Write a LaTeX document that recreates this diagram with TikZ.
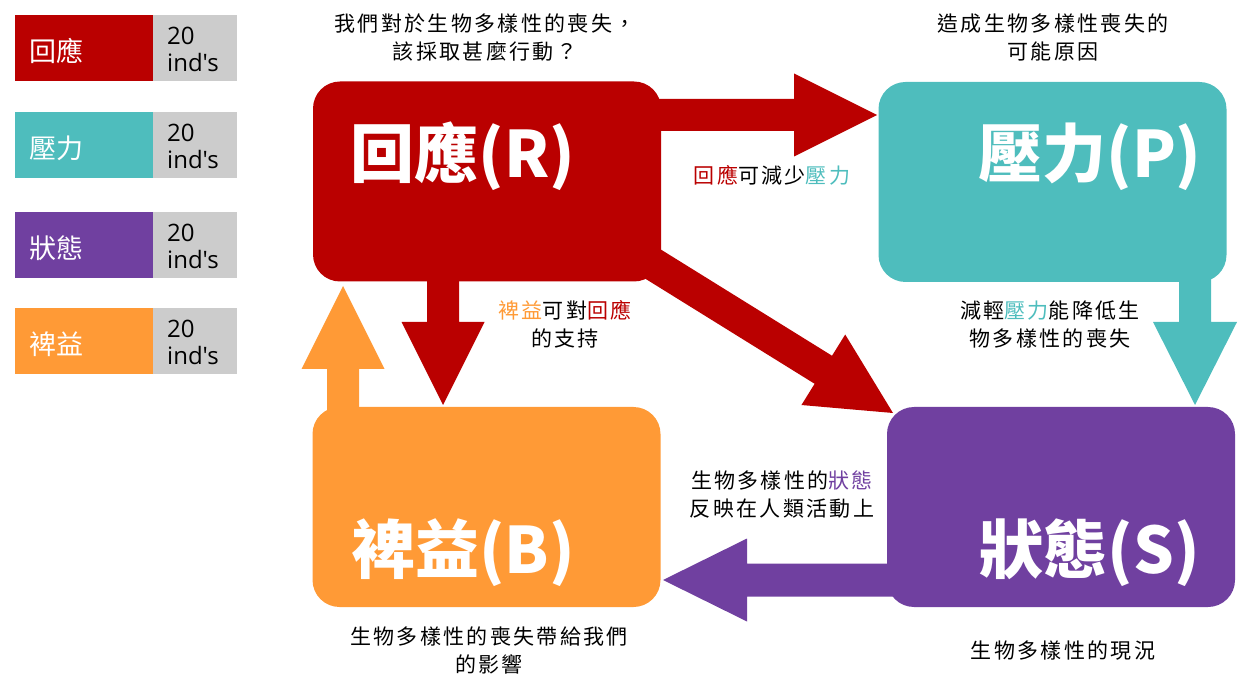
\documentclass[tikz,border=0pt]{standalone}
\usepackage{fontspec}
\setmainfont{Noto Sans CJK TC}
\newfontfamily\lab{Noto Sans CJK TC}[LetterSpace=11]
\newfontfamily\lat{Open Sans}
\usetikzlibrary{calc}
\definecolor{cR}{RGB}{186,0,0}
\definecolor{cP}{RGB}{78,189,189}
\definecolor{cS}{RGB}{112,64,160}
\definecolor{cB}{RGB}{255,154,54}
\definecolor{cG}{RGB}{204,204,204}
% block arrow: from, to, shaft half width, head half width, head length, style
\newcommand\barrow[6]{%
 \fill[#6] let \p1=(#1), \p2=(#2),
   \n1={veclen((\x2)-(\x1),(\y2)-(\y1))},
   \n2={((\x2)-(\x1))/(\n1)}, \n3={((\y2)-(\y1))/(\n1)} in
   ({(\x1)-(\n3)*#3},{(\y1)+(\n2)*#3})
   -- ({(\x2)-(\n2)*#5-(\n3)*#3},{(\y2)-(\n3)*#5+(\n2)*#3})
   -- ({(\x2)-(\n2)*#5-(\n3)*#4},{(\y2)-(\n3)*#5+(\n2)*#4})
   -- (\p2)
   -- ({(\x2)-(\n2)*#5+(\n3)*#4},{(\y2)-(\n3)*#5-(\n2)*#4})
   -- ({(\x2)-(\n2)*#5+(\n3)*#3},{(\y2)-(\n3)*#5-(\n2)*#3})
   -- ({(\x1)+(\n3)*#3},{(\y1)-(\n2)*#3}) -- cycle;}
\tikzset{
  bigbox/.style={rounded corners=27pt, minimum width=348pt, minimum height=200pt, inner sep=0pt},
  bigtxt/.style={text=white, font=\fontsize{64}{70}\selectfont\bfseries, anchor=base, inner sep=0pt},
  lbl/.style={font=\lab\fontsize{21}{28}\selectfont, align=center, inner sep=0pt},
  legc/.style={minimum width=138pt, minimum height=66pt, inner sep=0pt, anchor=north west},
  legg/.style={fill=cG, minimum width=84pt, minimum height=66pt, inner sep=0pt, anchor=north west},
  legt/.style={text=white, font=\fontsize{27}{30}\selectfont, anchor=west, inner sep=0pt},
  legn/.style={font=\lat\fontsize{24}{27}\selectfont, anchor=base west, inner sep=0pt}
}
\begin{document}
\begin{tikzpicture}[x=1pt,y=-1pt]
\useasboundingbox (0,0) rectangle (1245,684);
% legend
\node[legc, fill=cR] (l1) at (15,15) {};
\node[legg] (g1) at (153,15) {};
\node[legc, fill=cP] (l2) at (15,112) {};
\node[legg] (g2) at (153,112) {};
\node[legc, fill=cS] (l3) at (15,212) {};
\node[legg] (g3) at (153,212) {};
\node[legc, fill=cB] (l4) at (15,308) {};
\node[legg] (g4) at (153,308) {};
\foreach \i/\t/\y in {1/回應/15, 2/壓力/112, 3/狀態/212, 4/裨益/308}{
  \node[legt] (lt\i) at (29,\y+36) {\t};
  \node[legn] (na\i) at (167,\y+30) {20};
  \node[legn] (nb\i) at (167,\y+57) {ind's};
}
% arrow end points
\coordinate (rp0) at (650,115);  \coordinate (rp1) at (877,115);
\coordinate (rb0) at (443,270);  \coordinate (rb1) at (443,405);
\coordinate (rs0) at (640,256);  \coordinate (rs1) at (893,413);
\coordinate (ps0) at (1195,270); \coordinate (ps1) at (1195,405);
\coordinate (sb0) at (900,580);  \coordinate (sb1) at (663,580);
\coordinate (br0) at (343,420);  \coordinate (br1) at (343,286);
% arrows
\barrow{rp0}{rp1}{16}{41.5}{83}{cR}
\barrow{rb0}{rb1}{16}{41.5}{83}{cR}
\barrow{rs0}{rs1}{16.5}{41.5}{82}{cR}
\barrow{ps0}{ps1}{16}{42}{83}{cP}
\barrow{sb0}{sb1}{16.5}{41.5}{84}{cS}
\barrow{br0}{br1}{16}{41.5}{83}{cB}
% boxes
\node[bigbox, fill=cR] (R) at (487,181.5) {};
\node[bigbox, fill=cP] (P) at (1052.5,182) {};
\node[bigbox, fill=cB] (B) at (486.5,507) {};
\node[bigbox, fill=cS] (S) at (1061,507) {};
\node[bigtxt] (Rt) at (463,178) {回應(R)};
\node[bigtxt] (Pt) at (1090,178) {壓力(P)};
\node[bigtxt] (Bt) at (463,573) {裨益(B)};
\node[bigtxt] (St) at (1090,573) {狀態(S)};
% labels
\node[lbl] (q1) at (485,37.5) {我們對於生物多樣性的喪失，\\該採取甚麼行動？};
\node[lbl] (q2) at (1053,37.5) {造成生物多樣性喪失的\\可能原因};
\node[lbl] (q3) at (772,175) {{\color{cR}回應}可減少{\color{cP}壓力}};
\node[lbl] (q4) at (565,324) {{\color{cB}裨益}可對{\color{cR}回應}\\的支持};
\node[lbl] (q5) at (1050,324) {減輕{\color{cP}壓力}能降低生\\物多樣性的喪失};
\node[lbl] (q6) at (782,495) {生物多樣性的{\color{cS}狀態}\\反映在人類活動上};
\node[lbl] (q7) at (489,650) {生物多樣性的喪失帶給我們\\的影響};
\node[lbl] (q8) at (1063,651) {生物多樣性的現況};
\end{tikzpicture}
\end{document}
